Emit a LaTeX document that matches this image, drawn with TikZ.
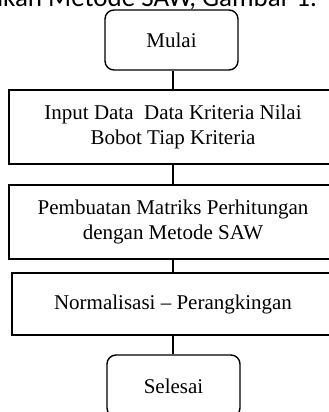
\documentclass[tikz,border=0pt]{standalone}
\usepackage{fontspec}
\setmainfont{Liberation Serif}
\newfontfamily\capfont{Carlito}
\begin{document}
\begin{tikzpicture}[x=1pt,y=1pt,
  flow/.style={draw=black, line width=1.4pt, inner sep=0pt, align=center,
    font=\fontsize{21}{25}\selectfont},
  terminal/.style={flow, rounded corners=9pt, minimum width=133pt, minimum height=60pt},
  process/.style={flow, minimum width=328pt},
  link/.style={draw=black, line width=1.3pt}]
\useasboundingbox (0,0) rectangle (329,-412);
\clip (0,0) rectangle (329,-412);

% caption line running above the chart
\node[anchor=base east, font=\capfont\fontsize{27}{32}\selectfont, inner sep=0pt]
  (cap) at (317,-6.5) {menggunakan Metode SAW, Gambar 1.};

\node[terminal] (mulai) at (171.5,-40) {Mulai};
\node[process, minimum height=74pt] (input) at (173,-127)
  {Input Data\ \ Data Kriteria Nilai\\Bobot Tiap Kriteria};
\node[process, minimum height=74pt] (matriks) at (173,-222)
  {Pembuatan Matriks Perhitungan\\dengan Metode SAW};
\node[process, minimum width=322pt, minimum height=62pt] (norm) at (173,-304)
  {Normalisasi -- Perangkingan};
\node[terminal, minimum height=62pt] (selesai) at (173.5,-386) {Selesai};

\draw[link] (mulai.south -| input.north) -- (input.north);
\draw[link] (input) -- (matriks);
\draw[link] (matriks) -- (norm);
\draw[link] (norm.south) -- (norm.south |- selesai.north);
\end{tikzpicture}
\end{document}
